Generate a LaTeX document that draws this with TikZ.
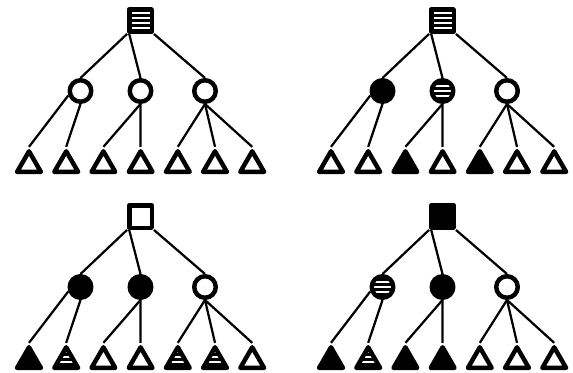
\documentclass[tikz,border=0pt]{standalone}
\usepackage{tikz}
\usetikzlibrary{shapes.geometric}

\begin{document}
\begin{tikzpicture}[x=0.85pt, y=-0.85pt, line join=round,
  link/.style={line width=1.9pt},
  sq/.style={rectangle, draw, line width=3.8pt, minimum size=19.1pt, inner sep=0pt},
  dot/.style={circle, draw, line width=3.8pt, minimum size=18.3pt, inner sep=0pt},
  tri/.style={regular polygon, regular polygon sides=3, draw, line width=3.8pt,
              minimum size=23.3pt, inner sep=0pt},
  sqopen/.style={fill=white}, sqfull/.style={fill=black},
  sqhatch/.style={fill=black, path picture={
      \foreach \s in {-6.4,-2.1,2.1,6.4}
        \draw[white, line width=1.3pt] ([yshift=\s pt]path picture bounding box.west)
          -- ([yshift=\s pt]path picture bounding box.east);}},
  dotopen/.style={fill=white}, dotfull/.style={fill=black},
  dothatch/.style={fill=black, path picture={
      \foreach \s in {-4.2,0,4.2}
        \draw[white, line width=1.3pt] ([yshift=\s pt]path picture bounding box.west)
          -- ([yshift=\s pt]path picture bounding box.east);}},
  triopen/.style={fill=white}, trifull/.style={fill=black},
  trihatch/.style={fill=black, path picture={
      \foreach \s in {4.8,0.5,-3.7}
        \draw[white, line width=1.3pt] ([yshift=\s pt]path picture bounding box.west)
          -- ([yshift=\s pt]path picture bounding box.east);}}]

  \useasboundingbox (0,0) rectangle (573,372);

  % one tree per entry: offset, name, root kind, circle kinds, triangle kinds
  \foreach \dx/\dy/\tn/\rk/\cks/\tks in {
      0/0/a/hatch/{open,open,open}/{open,open,open,open,open,open,open},
      302/0/b/hatch/{full,hatch,open}/{open,open,full,open,full,open,open},
      0/196/c/open/{full,full,open}/{full,hatch,open,open,hatch,hatch,open},
      302/196/d/full/{hatch,full,open}/{full,hatch,full,full,open,open,open}} {
    \node[sq, sq\rk] (\tn-r) at (140.5+\dx, 20.5+\dy) {};
    \foreach \k [count=\i] in \cks {
      \pgfmathsetmacro\cx{{80.5,140.5,205}[\i-1]}
      \node[dot, dot\k] (\tn-c\i) at (\cx+\dx, 91+\dy) {};
    }
    \foreach \k [count=\i] in \tks
      \node[tri, tri\k] (\tn-t\i) at (29+37.2*\i-37.2+\dx, 165+\dy) {};

    \draw[link] (\tn-r.south west) -- (\tn-c1.north);
    \draw[link] (\tn-r.230) -- (\tn-c2.north);
    \draw[link] (\tn-r.south east) -- (\tn-c3.north);
    \draw[link] (\tn-c1.200) -- (\tn-t1.north);
    \draw[link] (\tn-c1.south) -- (\tn-t2.north);
    \draw[link] (\tn-c2.south) -- (\tn-t3.north);
    \draw[link] (\tn-c2.south) -- (\tn-t4.north);
    \foreach \j in {5,6,7}
      \draw[link] (\tn-c3.south) -- (\tn-t\j.north);
  }

\end{tikzpicture}
\end{document}
